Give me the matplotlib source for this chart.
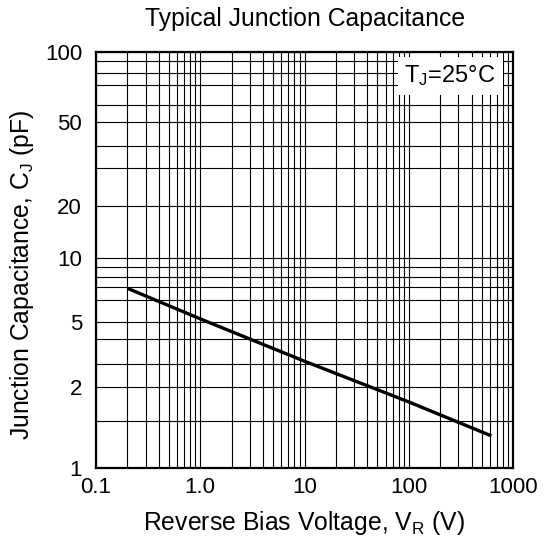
import numpy as np
import matplotlib
matplotlib.use('Agg')
import matplotlib.pyplot as plt
from matplotlib.ticker import FixedLocator, NullFormatter

plt.rcParams['font.family'] = ['Liberation Sans', 'DejaVu Sans']
plt.rcParams['mathtext.default'] = 'regular'

# capacitance curve
vr = [0.2, 1.0, 10, 100, 620]
cj = [7.3, 5.2, 3.25, 2.07, 1.42]

# grid as drawn in the datasheet (its y grid is not a clean log grid)
x_major = [0.1, 1, 10, 100, 1000]
x_labels = ['0.1', '1.0', '10', '100', '1000']
x_minor = [m * d for d in (0.1, 1, 10, 100) for m in range(2, 10)]
y_major = [1, 2.45, 5.03, 10.2, 18.2, 46.0, 100]
y_labels = ['1', '2', '5', '10', '20', '50', '100']
y_minor = [1.68, 3.14, 4.14, 6.40, 7.37, 8.28, 9.26, 27.7, 35.4, 55.6, 69.9, 79.2, 90.5]

FS_TICK = 16
FS_LABEL = 17.8

fig = plt.figure(figsize=(5.48, 5.42), dpi=100)
ax = fig.add_axes([96 / 548, 1 - 467.5 / 542, 417 / 548, 415.2 / 542])
ax.set_xscale('log')
ax.set_yscale('log')
ax.set_xlim(0.1, 1000)
ax.set_ylim(1, 100)

ax.xaxis.set_major_locator(FixedLocator(x_major))
ax.set_xticklabels(x_labels)
ax.xaxis.set_minor_locator(FixedLocator(x_minor))
ax.xaxis.set_minor_formatter(NullFormatter())
ax.yaxis.set_major_locator(FixedLocator(y_major))
ax.set_yticklabels(y_labels)
ax.yaxis.set_minor_locator(FixedLocator(y_minor))
ax.yaxis.set_minor_formatter(NullFormatter())

ax.grid(True, which='both', color='black', linewidth=0.8)
ax.tick_params(which='both', length=0, labelsize=FS_TICK)
ax.tick_params(axis='x', pad=7)
ax.tick_params(axis='y', pad=10)
for s in ax.spines.values():
    s.set_linewidth(1.6)

ax.plot(vr, cj, color='black', linewidth=2.4, solid_capstyle='butt', zorder=3)

ax.text(0.849, 0.943, 'T$_J$=25°C', transform=ax.transAxes, ha='center', va='center',
        fontsize=17, bbox=dict(facecolor='white', edgecolor='none', pad=5), zorder=4)

fig.text(305 / 548, 1 - 19 / 542, 'Typical Junction Capacitance', ha='center', va='center', fontsize=FS_LABEL)
fig.text(304 / 548, 1 - 523 / 542, 'Reverse Bias Voltage, V$_R$ (V)', ha='center', va='center', fontsize=FS_LABEL)
fig.text(22 / 548, 1 - 275 / 542, 'Junction Capacitance, C$_J$ (pF)', ha='center', va='center',
         rotation=90, fontsize=FS_LABEL)

fig.savefig('out.png', dpi=100)
